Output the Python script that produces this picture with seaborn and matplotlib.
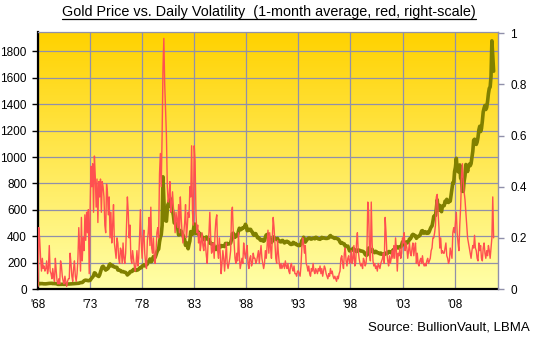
import numpy as np
import pandas as pd
import matplotlib
matplotlib.use("Agg")
import matplotlib.pyplot as plt
from matplotlib.lines import Line2D
import seaborn as sns

# ---------------- data (monthly, Jan 1968 .. Oct 2011) ----------------
gold_price = [
    # 1968
    38, 40, 42, 40, 41, 41, 39.5, 39, 39, 39, 40, 41,
    # 1969
    42, 42.5, 43, 43, 43, 41, 42, 41, 41, 40, 38, 35,
    # 1970
    35, 35, 35, 35.5, 36, 35.5, 35.3, 35.4, 36.2, 37.5, 37.4, 37.4,
    # 1971
    37.9, 38.7, 38.9, 39, 40.5, 40.1, 41, 42.7, 42, 42.5, 42.9, 43.5,
    # 1972
    45.8, 48.3, 48.3, 49, 54.6, 62.1, 65.7, 67, 65.5, 64.9, 62.9, 63.9,
    # 1973
    65.1, 74.2, 84.4, 90.5, 102, 122.5, 120, 106.8, 103, 100.1, 94.8, 106.7,
    # 1974
    129, 150, 168.4, 172.2, 163.3, 154.1, 143, 154.6, 151.8, 158.8, 181.7, 190,
    # 1975
    175.8, 180, 178, 169.8, 167, 164.2, 165.2, 163, 144.1, 142.8, 142.8, 139.3,
    # 1976
    131.2, 131.6, 132.8, 128.3, 126.7, 125.6, 117.7, 106, 114.1, 117, 130.1, 133.6,
    # 1977
    132.3, 136.3, 148.2, 149.2, 146.6, 140.8, 143.1, 144.8, 149.6, 159, 161.8, 160.4,
    # 1978
    173.2, 178.2, 183.7, 175.3, 176.3, 183.8, 188.7, 206.1, 212.4, 227.3, 206.1, 207.8,
    # 1979
    227.3, 245.7, 242.1, 239.2, 257.6, 279.1, 294.7, 301, 355.1, 391.7, 410, 480,
    # 1980
    850, 680, 540, 517.4, 513.8, 600.7, 644.3, 627.2, 690, 661.2, 623.5, 594.9,
    # 1981
    557.9, 500.2, 498.8, 494.5, 479.7, 460.8, 409.3, 410.1, 443.2, 437.8, 413.4, 410.1,
    # 1982
    384.2, 374.1, 330.2, 350.6, 333.9, 305, 338.6, 364.2, 434.9, 422.9, 414.6, 444.5,
    # 1983
    490, 491.2, 419.7, 432.8, 438.4, 412.9, 422.8, 416.1, 412.4, 393.7, 381.9, 388.1,
    # 1984
    370.9, 386.8, 394.3, 381.3, 377.5, 377.6, 347.4, 347.7, 341.1, 340.2, 341.2, 320.2,
    # 1985
    302.8, 299.1, 304.1, 324.5, 316.5, 316.9, 317.4, 329.3, 323.5, 325.2, 325.3, 321.5,
    # 1986
    345.4, 339, 346, 340.4, 342.5, 342.6, 348.7, 376.6, 418.7, 423.4, 398.1, 391.3,
    # 1987
    408.3, 401, 408.9, 438.3, 460.2, 449.6, 450.5, 460.3, 460, 465.9, 468, 490,
    # 1988
    477.8, 442.1, 443.6, 451.7, 451.4, 451.7, 437.6, 431.4, 413.2, 406.8, 420.1, 418.7,
    # 1989
    404, 387.8, 390.2, 384.3, 371.3, 367.6, 375, 365.4, 362, 367, 394.3, 409.7,
    # 1990
    410.1, 416.7, 393.1, 374.3, 369.1, 352.3, 362.5, 394.7, 389.5, 380.6, 381.7, 376.6,
    # 1991
    383.6, 363.8, 363.3, 358.4, 356.8, 366.7, 367.7, 356.4, 348.7, 358.6, 359.8, 361.1,
    # 1992
    354.5, 354, 344.3, 338.6, 337.2, 340.8, 353.1, 342.9, 345.4, 344.4, 335, 334.8,
    # 1993
    329, 329.3, 330.1, 342.2, 367.2, 371.6, 392, 379.8, 355.3, 364.2, 373.8, 383.3,
    # 1994
    387, 382, 384, 378, 381, 385.6, 385.5, 380.4, 391.6, 389.8, 384.4, 379.3,
    # 1995
    378.6, 376.5, 382.1, 391, 385.3, 387.6, 386.2, 383.7, 383.1, 383.1, 385.5, 387.4,
    # 1996
    399.5, 404.8, 396.2, 392.8, 392, 385.3, 383.5, 387.5, 383.1, 381.1, 378.3, 369.3,
    # 1997
    354.6, 346.4, 351.6, 344.5, 343.7, 340.8, 324.1, 323.9, 322.7, 324.9, 306.1, 288.7,
    # 1998
    289.1, 297.5, 295.9, 308.4, 299.1, 292.3, 292.9, 284.1, 289, 295.9, 294.1, 291.7,
    # 1999
    287.1, 287.2, 285.9, 282.6, 276.4, 261.3, 256.1, 256.7, 264.7, 310.7, 293.2, 283.1,
    # 2000
    284.6, 300.9, 286.4, 280, 275.3, 285.5, 282, 274.5, 273.7, 270.6, 266, 272.2,
    # 2001
    265.5, 261.9, 263, 260.5, 272.4, 270.2, 267.5, 272.4, 283.4, 283.1, 276.2, 275.8,
    # 2002
    281.6, 295.5, 294, 302.7, 314.5, 321.2, 313.3, 310.3, 319.2, 316.6, 319.1, 333,
    # 2003
    356.9, 359, 340.6, 328.2, 355.7, 356.4, 351, 359.8, 378.9, 378.9, 389.9, 407.6,
    # 2004
    414, 405.3, 406.7, 403, 383.8, 392.4, 398.1, 400.5, 405.3, 420.5, 439.4, 442.1,
    # 2005
    424, 423.4, 434.2, 428.9, 421.9, 430.7, 424.5, 437.9, 456, 469.9, 476.7, 510.1,
    # 2006
    549.9, 555, 557.1, 610.6, 675.4, 596.2, 633.7, 632.6, 598.2, 585.8, 627.8, 629.8,
    # 2007
    631.2, 664.8, 654.9, 679.4, 666.9, 655.5, 665.3, 665.4, 712.7, 754.6, 806.3, 803.2,
    # 2008
    889.6, 922.3, 990, 909.7, 888.7, 889.5, 939.8, 839, 829.9, 740, 740, 816.1,
    # 2009
    858.7, 943.2, 924.3, 890.2, 928.6, 945.7, 934.2, 949.4, 996.6, 1043.2, 1127, 1134.7,
    # 2010
    1118, 1095.4, 1113.3, 1148.7, 1205.4, 1232.9, 1193, 1215.8, 1271, 1342, 1369.9, 1390.6,
    # 2011
    1360, 1375, 1420, 1480, 1520, 1530, 1610, 1880, 1760, 1650,
]

volatility = [
    # 1968
    0.01, 0.24, 0.19, 0.12, 0.07, 0.12, 0.08, 0.09, 0.07, 0.08, 0.11, 0.06,
    # 1969
    0.08, 0.17, 0.07, 0.06, 0.04, 0.08, 0.05, 0.03, 0.12, 0.07, 0.03, 0.02,
    # 1970
    0.04, 0.02, 0.11, 0.09, 0.05, 0.03, 0.02, 0.05, 0.03, 0.01, 0.03, 0.04,
    # 1971
    0.04, 0.14, 0.10, 0.05, 0.03, 0.08, 0.11, 0.05, 0.03, 0.06, 0.12, 0.24,
    # 1972
    0.15, 0.07, 0.28, 0.11, 0.20, 0.15, 0.29, 0.19, 0.30, 0.22, 0.31, 0.06,
    # 1973
    0.30, 0.48, 0.40, 0.49, 0.30, 0.52, 0.44, 0.32, 0.43, 0.26, 0.42, 0.36,
    # 1974
    0.43, 0.30, 0.42, 0.40, 0.36, 0.25, 0.22, 0.41, 0.38, 0.29, 0.36, 0.20,
    # 1975
    0.30, 0.18, 0.25, 0.33, 0.18, 0.15, 0.12, 0.20, 0.18, 0.12, 0.10, 0.16,
    # 1976
    0.15, 0.10, 0.18, 0.12, 0.10, 0.14, 0.25, 0.36, 0.30, 0.20, 0.25, 0.12,
    # 1977
    0.10, 0.15, 0.12, 0.09, 0.07, 0.10, 0.15, 0.09, 0.12, 0.20, 0.31, 0.18,
    # 1978
    0.12, 0.20, 0.23, 0.14, 0.10, 0.08, 0.19, 0.22, 0.28, 0.17, 0.32, 0.16,
    # 1979
    0.14, 0.20, 0.12, 0.10, 0.15, 0.22, 0.24, 0.20, 0.45, 0.53, 0.40, 0.60,
    # 1980
    0.86, 0.98, 0.80, 0.70, 0.60, 0.40, 0.34, 0.36, 0.42, 0.30, 0.33, 0.38,
    # 1981
    0.32, 0.28, 0.22, 0.30, 0.27, 0.24, 0.33, 0.22, 0.36, 0.28, 0.22, 0.18,
    # 1982
    0.22, 0.26, 0.33, 0.20, 0.24, 0.30, 0.28, 0.40, 0.36, 0.56, 0.30, 0.25,
    # 1983
    0.56, 0.50, 0.30, 0.22, 0.25, 0.18, 0.22, 0.15, 0.18, 0.22, 0.17, 0.15,
    # 1984
    0.20, 0.17, 0.13, 0.10, 0.18, 0.22, 0.30, 0.20, 0.14, 0.15, 0.18, 0.12,
    # 1985
    0.22, 0.27, 0.29, 0.15, 0.12, 0.20, 0.14, 0.06, 0.10, 0.15, 0.12, 0.07,
    # 1986
    0.12, 0.18, 0.10, 0.08, 0.10, 0.12, 0.15, 0.30, 0.32, 0.22, 0.18, 0.12,
    # 1987
    0.10, 0.14, 0.11, 0.22, 0.13, 0.08, 0.10, 0.12, 0.10, 0.18, 0.14, 0.12,
    # 1988
    0.15, 0.17, 0.10, 0.08, 0.12, 0.13, 0.09, 0.10, 0.14, 0.12, 0.12, 0.10,
    # 1989
    0.11, 0.13, 0.15, 0.10, 0.14, 0.17, 0.12, 0.10, 0.08, 0.10, 0.15, 0.12,
    # 1990
    0.17, 0.23, 0.14, 0.22, 0.16, 0.12, 0.20, 0.28, 0.24, 0.18, 0.12, 0.10,
    # 1991
    0.19, 0.14, 0.10, 0.08, 0.10, 0.08, 0.09, 0.10, 0.08, 0.11, 0.09, 0.08,
    # 1992
    0.10, 0.07, 0.06, 0.09, 0.10, 0.08, 0.07, 0.09, 0.06, 0.06, 0.05, 0.07,
    # 1993
    0.07, 0.06, 0.05, 0.09, 0.16, 0.20, 0.18, 0.14, 0.17, 0.10, 0.09, 0.07,
    # 1994
    0.09, 0.06, 0.05, 0.08, 0.07, 0.10, 0.07, 0.06, 0.08, 0.07, 0.06, 0.08,
    # 1995
    0.07, 0.09, 0.06, 0.08, 0.05, 0.07, 0.09, 0.08, 0.06, 0.05, 0.04, 0.06,
    # 1996
    0.05, 0.08, 0.06, 0.07, 0.05, 0.04, 0.05, 0.04, 0.03, 0.05, 0.04, 0.06,
    # 1997
    0.07, 0.12, 0.13, 0.10, 0.08, 0.14, 0.16, 0.11, 0.09, 0.12, 0.13, 0.10,
    # 1998
    0.11, 0.15, 0.10, 0.12, 0.17, 0.09, 0.10, 0.18, 0.22, 0.15, 0.12, 0.10,
    # 1999
    0.09, 0.10, 0.08, 0.12, 0.11, 0.09, 0.10, 0.15, 0.34, 0.30, 0.14, 0.11,
    # 2000
    0.34, 0.18, 0.11, 0.09, 0.10, 0.08, 0.09, 0.07, 0.10, 0.09, 0.08, 0.10,
    # 2001
    0.11, 0.12, 0.14, 0.10, 0.28, 0.22, 0.14, 0.11, 0.09, 0.13, 0.10, 0.12,
    # 2002
    0.15, 0.12, 0.17, 0.12, 0.20, 0.15, 0.07, 0.14, 0.13, 0.16, 0.12, 0.14,
    # 2003
    0.20, 0.18, 0.22, 0.15, 0.18, 0.16, 0.12, 0.15, 0.18, 0.14, 0.13, 0.16,
    # 2004
    0.18, 0.13, 0.16, 0.18, 0.10, 0.14, 0.10, 0.09, 0.11, 0.12, 0.10, 0.13,
    # 2005
    0.10, 0.09, 0.10, 0.09, 0.11, 0.12, 0.10, 0.11, 0.12, 0.15, 0.16, 0.20,
    # 2006
    0.20, 0.22, 0.25, 0.36, 0.37, 0.30, 0.24, 0.16, 0.20, 0.14, 0.15, 0.14,
    # 2007
    0.14, 0.16, 0.18, 0.13, 0.12, 0.10, 0.11, 0.16, 0.14, 0.12, 0.22, 0.24,
    # 2008
    0.22, 0.26, 0.30, 0.22, 0.18, 0.15, 0.25, 0.32, 0.44, 0.49, 0.42, 0.38,
    # 2009
    0.35, 0.30, 0.25, 0.20, 0.18, 0.16, 0.14, 0.12, 0.15, 0.17, 0.16, 0.21,
    # 2010
    0.16, 0.15, 0.12, 0.11, 0.18, 0.15, 0.17, 0.12, 0.11, 0.16, 0.18, 0.14,
    # 2011
    0.12, 0.15, 0.13, 0.17, 0.15, 0.12, 0.16, 0.20, 0.36, 0.20,
]

start_year = 1968
x_tick_years = [1968, 1973, 1978, 1983, 1988, 1993, 1998, 2003, 2008]
x_tick_labels = ["'68", "'73", "'78", "'83", "'88", "'93", "'98", "'03", "'08"]
left_ticks = [0, 200, 400, 600, 800, 1000, 1200, 1400, 1600, 1800]
right_ticks = [0, 0.2, 0.4, 0.6, 0.8, 1.0]
right_tick_labels = ["0", "0.2", "0.4", "0.6", "0.8", "1"]
title = "Gold Price vs. Daily Volatility  (1-month average, red, right-scale)"
source = "Source: BullionVault, LBMA"

n = len(gold_price)
df = pd.DataFrame({
    "year": start_year + np.arange(n) / 12.0,
    "gold": gold_price,
    "vol": volatility[:n],
})

# ---------------- style ----------------
sns.set_theme(style="white")
plt.rcParams["font.family"] = ["Liberation Sans", "DejaVu Sans"]

W, H = 539, 340
fig = plt.figure(figsize=(W / 100, H / 100), dpi=100)
fig.patch.set_facecolor("white")
ax = fig.add_axes([38 / W, (H - 289) / H, 460 / W, 257 / H])

# background gradient (top orange-yellow -> bottom pale yellow)
top_c = np.array([255, 210, 0]) / 255.0
bot_c = np.array([255, 255, 168]) / 255.0
t = np.linspace(0, 1, 256)[:, None]
grad = (top_c[None, :] * (1 - t) + bot_c[None, :] * t)[:, None, :]
ax.imshow(grad, extent=[0, 1, 0, 1], transform=ax.transAxes,
          aspect="auto", zorder=-5, interpolation="bilinear")

grid_c = "#9090AA"
sns.lineplot(data=df, x="year", y="gold", ax=ax, color="#808000",
             linewidth=2.6, estimator=None, errorbar=None, zorder=3)

ax.set_xlim(1968.0, 2012.17)
ax.set_ylim(0, 1947)
ax.set_xticks(x_tick_years)
ax.set_xticklabels(x_tick_labels)
ax.set_yticks(left_ticks)
ax.set_xlabel("")
ax.set_ylabel("")
ax.grid(True, color=grid_c, linewidth=0.9, zorder=1)
ax.set_axisbelow(True)
for s in ["left", "bottom"]:
    ax.spines[s].set_color("black")
    ax.spines[s].set_linewidth(1.6)
ax.spines["top"].set_color(grid_c)
ax.spines["top"].set_linewidth(0.9)
ax.spines["right"].set_visible(False)
ax.tick_params(axis="y", which="both", left=True, length=4, width=1.0,
               color="black", pad=4, labelsize=8.5, labelcolor="black")
ax.tick_params(axis="x", which="both", bottom=False, length=0, pad=7,
               labelsize=8.5, labelcolor="black")

ax2 = ax.twinx()
sns.lineplot(data=df, x="year", y="vol", ax=ax2, color="#FF5050",
             linewidth=1.0, estimator=None, errorbar=None, zorder=4)
ax2.set_ylim(0, 1.005)
ax2.set_xlim(1968.0, 2012.17)
ax2.set_yticks(right_ticks)
ax2.set_yticklabels(right_tick_labels)
ax2.set_ylabel("")
ax2.grid(False)
for s in ["left", "bottom", "top"]:
    ax2.spines[s].set_visible(False)
ax2.spines["right"].set_color(grid_c)
ax2.spines["right"].set_linewidth(1.0)
ax2.tick_params(axis="y", right=True, length=4, width=1.0, color=grid_c,
                pad=5, labelsize=8.5, labelcolor="black")

# title with underline
ttl = fig.text(268.7 / W, 1 - 12 / H, title, ha="center", va="center",
               fontsize=10.4, color="black")
fig.text(530 / W, 1 - 327 / H, source, ha="right", va="center",
         fontsize=9.5, color="black")

fig.canvas.draw()
bb = ttl.get_window_extent()
inv = fig.transFigure.inverted()
(x0, y0), (x1, y1) = inv.transform([[bb.x0, bb.y0], [bb.x1, bb.y1]])
fig.add_artist(Line2D([x0, x1], [y0 + 0.5 / H, y0 + 0.5 / H],
                      transform=fig.transFigure, color="black", linewidth=0.9))

fig.savefig("out.png", dpi=100, facecolor="white")
